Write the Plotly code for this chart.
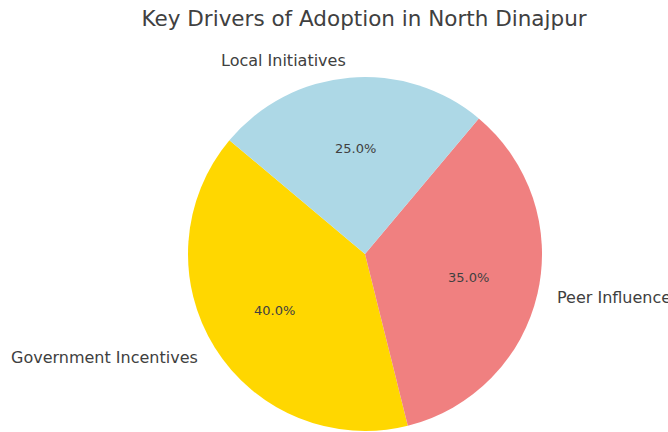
import math
import plotly.graph_objects as go

labels = ["Government Incentives", "Peer Influence", "Local Initiatives"]
values = [40, 35, 25]
colors = ["#FFD700", "#F08080", "#ADD8E6"]
title = "Key Drivers of Adoption in North Dinajpur"

W, H = 668, 432
cx, cy, R = 365, 254, 177  # pixel center (from top) and radius
start_angle = 140  # degrees, counterclockwise from 3 o'clock

total = sum(values)
xd = [(cx - R) / W, (cx + R) / W]
yd = [(H - cy - R) / H, (H - cy + R) / H]

# plotly's counterclockwise mode places the first slice ending at the rotation angle
rot = 90 - (start_angle + 360 * values[0] / total)

fig = go.Figure(go.Pie(
    labels=labels, values=values, sort=False,
    direction="counterclockwise", rotation=rot,
    marker=dict(colors=colors, line=dict(width=0)),
    textinfo="none", hoverinfo="label+percent",
    domain=dict(x=xd, y=yd), showlegend=False,
))

ann = []
ang = start_angle
txtcol = "#404040"
for lab, v in zip(labels, values):
    mid = math.radians(ang + 360 * v / total / 2)
    ang += 360 * v / total
    lx = cx + 1.1 * R * math.cos(mid)
    ly = cy - 1.1 * R * math.sin(mid)
    ann.append(dict(x=lx / W, y=(H - ly) / H, xref="paper", yref="paper",
                    text=lab, showarrow=False,
                    xanchor="left" if math.cos(mid) > 0 else "right",
                    yanchor="middle",
                    font=dict(family="DejaVu Sans", size=16, color=txtcol)))
    px = cx + 0.6 * R * math.cos(mid)
    py = cy - 0.6 * R * math.sin(mid)
    ann.append(dict(x=px / W, y=(H - py) / H, xref="paper", yref="paper",
                    text=f"{100 * v / total:.1f}%", showarrow=False,
                    xanchor="center", yanchor="middle",
                    font=dict(family="DejaVu Sans", size=13, color=txtcol)))

fig.update_layout(
    width=W, height=H,
    margin=dict(l=0, r=0, t=0, b=0),
    paper_bgcolor="white", plot_bgcolor="white",
    title=dict(text=title, x=0.545, xanchor="center", y=1 - 18 / H, yanchor="middle",
               font=dict(family="DejaVu Sans", size=21.5, color=txtcol)),
    annotations=ann,
)

fig.write_html("out.html", config={"displayModeBar": False},
               post_script="document.body.style.margin='0';")
